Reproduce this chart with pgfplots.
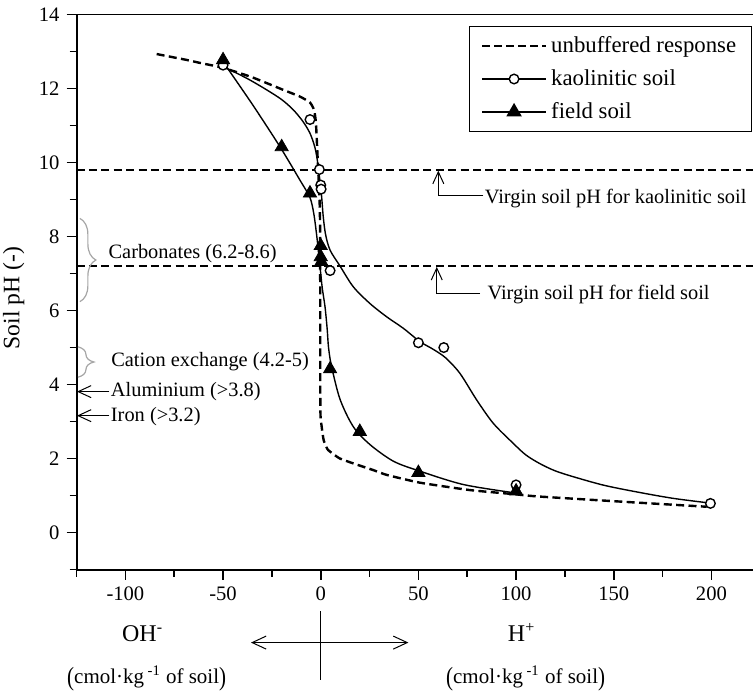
\documentclass[border=0pt]{standalone}
\usepackage{pgfplots}
\pgfplotsset{compat=1.18}
\usepackage{fontspec}
\setmainfont{Liberation Serif}
\usetikzlibrary{arrows.meta,decorations.pathreplacing}
\newcommand{\unitlabel}{\raisebox{-0.12em}{\scalebox{1}[1.25]{(}}cmol·kg\,\textsuperscript{-1} of soil\raisebox{-0.12em}{\scalebox{1}[1.25]{)}}}
\tikzset{barb/.style={-{Straight Barb[length=6pt,width=5.5pt]}}}
\begin{document}
\begin{tikzpicture}
\begin{axis}[
  scale only axis, width=338.5pt, height=277.85pt,
  xmin=-125, xmax=221.3, ymin=-1, ymax=14,
  axis x line=bottom, axis y line=left,
  axis line style={-, line width=1pt},
  xtick={-100,-50,...,200}, minor xtick={-125,-75,...,175},
  ytick={0,2,...,14}, minor ytick={-1,1,...,13},
  tick align=outside, major tick length=5pt, minor tick length=3.5pt,
  every tick/.style={line width=0.8pt, black},
  ticklabel style={font=\fontsize{10.3}{12}\selectfont},
  /pgf/number format/assume math mode=true,
  ylabel={Soil pH (-)},
  ylabel style={font=\fontsize{11.8}{13}\selectfont, at={(axis description cs:-0.093,0.489)}, anchor=center},
  clip=false,
  legend cell align=left,
  legend image code/.code={\draw[mark repeat=2, mark phase=2, #1] plot coordinates {(0pt,0pt) (16pt,0pt) (32pt,0pt)};},
  legend style={at={(rel axis cs:0.998,0.979)}, anchor=north east, draw=black, line width=0.5pt,
    font=\fontsize{11.4}{13}\selectfont, inner xsep=5.5pt, inner ysep=3pt, row sep=3pt},
]
% reference pH lines
\addplot[black, line width=1.2pt, dash pattern=on 4pt off 2.2pt, forget plot] coordinates {(-125,9.8) (221.3,9.8)};
\addplot[black, line width=1.2pt, dash pattern=on 4pt off 2.2pt, forget plot] coordinates {(-125,7.2) (221.3,7.2)};
% unbuffered response
\addplot[black, line width=1.2pt, dash pattern=on 4pt off 2.2pt, smooth, tension=0.3, forget plot] coordinates {
(-84,12.93) (-68.6,12.77) (-61.8,12.69) (-50.2,12.56) (-35,12.3) (-19.1,11.96) (-10.6,11.78)
(-5.5,11.62) (-3.4,11.42) (-2.5,11.1) (-2.0,10.6) (-1.4,9.9) (-0.6,9.0) (-0.3,8.0) (-0.2,3.4)
(0.4,2.9) (1.5,2.5) (3.5,2.25) (6.5,2.12) (9.9,2.0) (16.7,1.87) (26.9,1.69) (33.8,1.56)
(50.8,1.35) (76.4,1.15) (99,1.04) (110.6,0.98) (150,0.85) (197.6,0.70)};
% kaolinitic soil fitted curve
\addplot[black, line width=0.7pt, smooth, tension=0.5, forget plot] coordinates {
(-50.2,12.58) (-46.4,12.5) (-37,12.25) (-27.6,11.96) (-20,11.7) (-14,11.42) (-9,11.1)
(-5.5,10.79) (-3.2,10.45) (-2,10.15) (-1.1,9.8) (0.3,9.17) (1.3,8.53) (2.5,8.05) (4.8,7.63)
(9.9,7.2) (16.7,6.64) (25.2,6.19) (33.8,5.83) (42.3,5.52) (50.8,5.16) (57.7,4.95) (64,4.72)
(71.3,4.30) (79.9,3.58) (88.4,2.95) (98.6,2.41) (105,2.1) (112,1.87) (120,1.67) (130,1.5)
(145,1.28) (161.8,1.1) (180,0.93) (197.6,0.81)};
% field soil fitted curve
\addplot[black, line width=0.7pt, smooth, tension=0.5, forget plot] coordinates {
(-50,12.72) (-35,11.57) (-20.8,10.42) (-10.6,9.52) (-5.5,9.05) (-3.5,8.6) (-2,8.0) (-1,7.5)
(0,7.0) (0.8,6.6) (2.2,6.1) (3.3,5.5) (4.0,5.0) (5.5,4.5) (9.9,3.6) (16.7,2.86) (25.2,2.38)
(37.2,1.93) (50.8,1.66) (73,1.3) (98.6,1.08)};
% kaolinitic soil data
\addplot[only marks, mark=*, mark size=2.4pt, mark options={fill=white, draw=black, line width=0.7pt}, forget plot] coordinates {
(-50,12.63) (-5.5,11.16) (-0.7,9.81) (0,9.39) (0.2,9.28) (4.8,7.08) (50,5.13) (63,5.0) (100,1.29) (199.5,0.79)};
% field soil data
\addplot[only marks, mark=triangle*, mark size=3.8pt, mark options={fill=black, draw=black}, forget plot] coordinates {
(-50,12.77) (-20,10.42) (-5.5,9.17) (0,7.75) (0,7.45) (0.3,7.32) (4.8,4.42) (20,2.73) (50,1.62) (100,1.12)};
% legend
\addlegendimage{black, line width=1.2pt, dash pattern=on 4pt off 2pt}
\addlegendentry{unbuffered response}
\addlegendimage{black, line width=0.7pt, mark=*, mark size=2.4pt, mark options={fill=white, solid}}
\addlegendentry{kaolinitic soil}
\addlegendimage{black, line width=0.7pt, mark=triangle*, mark size=3.8pt, mark options={fill=black, solid}}
\addlegendentry{field soil}
% top border
\draw[line width=0.5pt] (rel axis cs:0,1) -- (rel axis cs:1,1);
% virgin pH annotations
\draw[barb, line width=0.5pt] (axis cs:83.3,9.1) -- (axis cs:60.2,9.1) -- (axis cs:60.2,9.78);
\node[anchor=base west, inner sep=0pt, font=\fontsize{10.2}{12}\selectfont] at (axis cs:83.8,8.9) {Virgin soil pH for kaolinitic soil};
\draw[barb, line width=0.5pt] (axis cs:81.6,6.47) -- (axis cs:59.4,6.47) -- (axis cs:59.4,7.18);
\node[anchor=base west, inner sep=0pt, font=\fontsize{10.2}{12}\selectfont] at (axis cs:85.2,6.30) {Virgin soil pH for field soil};
% buffering ranges
\draw[gray!70, line width=0.6pt, decorate, decoration={brace, amplitude=8pt}] (axis cs:-123.3,8.49) -- (axis cs:-123.3,6.24);
\node[anchor=base west, inner sep=0pt, font=\fontsize{10.2}{12}\selectfont] at (axis cs:-108.8,7.41) {Carbonates (6.2-8.6)};
\draw[gray!70, line width=0.6pt, decorate, decoration={brace, amplitude=8pt}] (axis cs:-124.3,5.02) -- (axis cs:-124.3,4.2);
\node[anchor=base west, inner sep=0pt, font=\fontsize{10.2}{12}\selectfont] at (axis cs:-107.4,4.48) {Cation exchange (4.2-5)};
\draw[-{Straight Barb[length=6.5pt,width=6pt]}, line width=0.5pt] (axis cs:-108.2,3.81) -- (axis cs:-124.8,3.81);
\node[anchor=base west, inner sep=0pt, font=\fontsize{10.2}{12}\selectfont] at (axis cs:-107.6,3.67) {Aluminium (>3.8)};
\draw[-{Straight Barb[length=6.5pt,width=6pt]}, line width=0.5pt] (axis cs:-108.2,3.16) -- (axis cs:-124.8,3.16);
\node[anchor=base west, inner sep=0pt, font=\fontsize{10.2}{12}\selectfont] at (axis cs:-107.6,3.0) {Iron (>3.2)};
% direction cross
\draw[{Straight Barb[length=7pt,width=6.5pt]}-{Straight Barb[length=7pt,width=6.5pt]}, line width=0.5pt] (axis cs:-35.7,-2.97) -- (axis cs:44.9,-2.97);
\draw[line width=0.5pt] (axis cs:0,-2.13) -- (axis cs:0,-3.98);
\node[anchor=base, inner sep=0pt, font=\fontsize{12}{14}\selectfont] at (axis cs:-92.8,-2.94) {OH\rlap{\textsuperscript{-}}};
\node[anchor=base, inner sep=0pt, font=\fontsize{12}{14}\selectfont] at (axis cs:100.3,-2.94) {H\rlap{\textsuperscript{+}}};
\node[anchor=base, inner sep=0pt, font=\fontsize{10.5}{12}\selectfont] at (axis cs:-89.1,-4.07) {\unitlabel};
\node[anchor=base, inner sep=0pt, font=\fontsize{10.5}{12}\selectfont] at (axis cs:104.9,-4.07) {\unitlabel};
\coordinate (bbll) at (axis cs:-164.2,-4.33);
\coordinate (bbur) at (axis cs:221.3,14.39);
\end{axis}
\pgfresetboundingbox
\useasboundingbox (bbll) rectangle (bbur);
\end{tikzpicture}
\end{document}
